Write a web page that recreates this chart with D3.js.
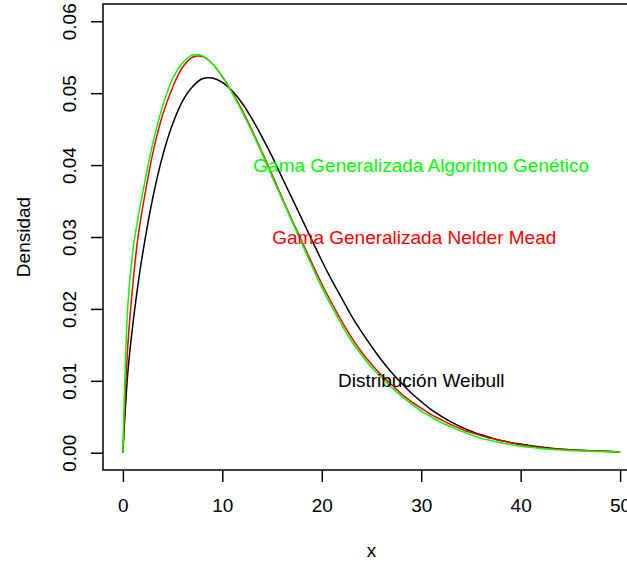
<!DOCTYPE html>
<html>
<head>
<meta charset="utf-8">
<script src="https://cdn.jsdelivr.net/npm/d3@7"></script>
<style>
  body { margin: 0; background: #fff; }
  svg { display: block; font-family: "Liberation Sans", Arial, sans-serif; }
</style>
</head>
<body>
<script>
const xs = [0, 0.5, 1, 1.5, 2, 3, 4, 5, 6, 7, 8, 9, 10, 11, 12, 13, 14, 15, 16, 17, 18, 19, 20,
  21, 22, 23, 24, 25, 26, 27, 28, 29, 30, 31, 32, 33, 34, 35, 36, 37, 38, 40, 42, 45, 50];

const weibull = [0, 0.0112, 0.0178, 0.0232, 0.0278, 0.0354, 0.0413, 0.0457, 0.0489, 0.0509, 0.0520,
  0.0521, 0.0515, 0.0503, 0.0486, 0.0464, 0.0439, 0.0412, 0.0383, 0.0354, 0.0325, 0.0296, 0.0267,
  0.0240, 0.0215, 0.0190, 0.0168, 0.0148, 0.0129, 0.0112, 0.0097, 0.0083, 0.0071, 0.0060, 0.0051,
  0.0043, 0.0036, 0.0030, 0.0025, 0.0021, 0.0017, 0.0012, 0.0008, 0.0004, 0.0001];

const ggNelder = [0, 0.0150, 0.0234, 0.0298, 0.0342, 0.0416, 0.0470, 0.0508, 0.0536, 0.0550, 0.0551,
  0.0541, 0.0523, 0.0501, 0.0476, 0.0448, 0.0418, 0.0387, 0.0355, 0.0324, 0.0294, 0.0264, 0.0235,
  0.0208, 0.0183, 0.0160, 0.0140, 0.0123, 0.0108, 0.0095, 0.0082, 0.0071, 0.0062, 0.0053, 0.0046,
  0.0039, 0.0033, 0.0028, 0.0024, 0.0020, 0.0017, 0.0011, 0.0007, 0.0004, 0.0001];

const ggGenetic = [0, 0.0205, 0.0280, 0.0325, 0.0362, 0.0430, 0.0482, 0.0520, 0.0542, 0.0553, 0.0552,
  0.0541, 0.0523, 0.0500, 0.0474, 0.0446, 0.0416, 0.0384, 0.0353, 0.0322, 0.0291, 0.0260, 0.0230,
  0.0203, 0.0178, 0.0155, 0.0136, 0.0119, 0.0105, 0.0091, 0.0079, 0.0068, 0.0058, 0.0050, 0.0042,
  0.0036, 0.0030, 0.0025, 0.0020, 0.0017, 0.0014, 0.0009, 0.0006, 0.0003, 0.0001];

const xTicks = [0, 10, 20, 30, 40, 50];
const yTicks = [0, 0.01, 0.02, 0.03, 0.04, 0.05, 0.06];

const series = [
  {name: "Distribución Weibull", values: weibull, color: "#000000", lx: 30, ly: 0.01},
  {name: "Gama Generalizada Nelder Mead", values: ggNelder, color: "#ff0000", lx: 29.3, ly: 0.03},
  {name: "Gama Generalizada Algoritmo Genético", values: ggGenetic, color: "#00ff00", lx: 30, ly: 0.04}
];

const width = 627, height = 565;
const plot = {left: 103, right: 640, top: 4, bottom: 470};

// R style: 4% padding around the data range
const x = d3.scaleLinear().domain([-2, 52]).range([plot.left, plot.right]);
const y = d3.scaleLinear().domain([-0.0024, 0.0624]).range([plot.bottom, plot.top]);

const svg = d3.select("body").append("svg")
    .attr("width", width)
    .attr("height", height)
    .style("font-size", "19px");

const line = d3.line()
    .x((d, i) => x(xs[i]))
    .y(d => y(d))
    .curve(d3.curveCatmullRom);

svg.append("g")
  .selectAll("path")
  .data(series)
  .join("path")
    .attr("fill", "none")
    .attr("stroke", d => d.color)
    .attr("stroke-width", 1.5)
    .attr("d", d => line(d.values));

// x axis
const gx = svg.append("g")
    .attr("transform", `translate(0,${plot.bottom})`)
    .call(d3.axisBottom(x).tickValues(xTicks).tickSize(12).tickPadding(17).tickSizeOuter(0));
gx.select(".domain").remove();
gx.selectAll(".tick line").attr("stroke", "#000").attr("stroke-width", 1.5);
gx.selectAll(".tick text").attr("fill", "#000").style("font-size", "19px");

// y axis with rotated labels
const gy = svg.append("g")
    .attr("transform", `translate(${plot.left},0)`)
    .call(d3.axisLeft(y).tickValues(yTicks).tickFormat(d3.format(".2f")).tickSize(12).tickSizeOuter(0));
gy.select(".domain").remove();
gy.selectAll(".tick line").attr("stroke", "#000").attr("stroke-width", 1.5);
gy.selectAll(".tick text")
    .attr("fill", "#000")
    .style("font-size", "19px")
    .attr("transform", "rotate(-90)")
    .attr("x", 0)
    .attr("y", -27)
    .attr("dy", 0)
    .attr("text-anchor", "middle");

// box
svg.append("rect")
    .attr("x", plot.left)
    .attr("y", plot.top)
    .attr("width", plot.right - plot.left)
    .attr("height", plot.bottom - plot.top)
    .attr("fill", "none")
    .attr("stroke", "#000")
    .attr("stroke-width", 1.5);

// labels inside the plot
svg.append("g")
  .selectAll("text")
  .data(series)
  .join("text")
    .attr("x", d => x(d.lx))
    .attr("y", d => y(d.ly))
    .attr("dy", "0.35em")
    .attr("text-anchor", "middle")
    .attr("fill", d => d.color)
    .text(d => d.name);

// axis titles
svg.append("text")
    .attr("x", (plot.left + plot.right) / 2)
    .attr("y", 557)
    .attr("text-anchor", "middle")
    .text("x");

svg.append("text")
    .attr("transform", `translate(30,${(plot.top + plot.bottom) / 2}) rotate(-90)`)
    .attr("text-anchor", "middle")
    .text("Densidad");
</script>
</body>
</html>
